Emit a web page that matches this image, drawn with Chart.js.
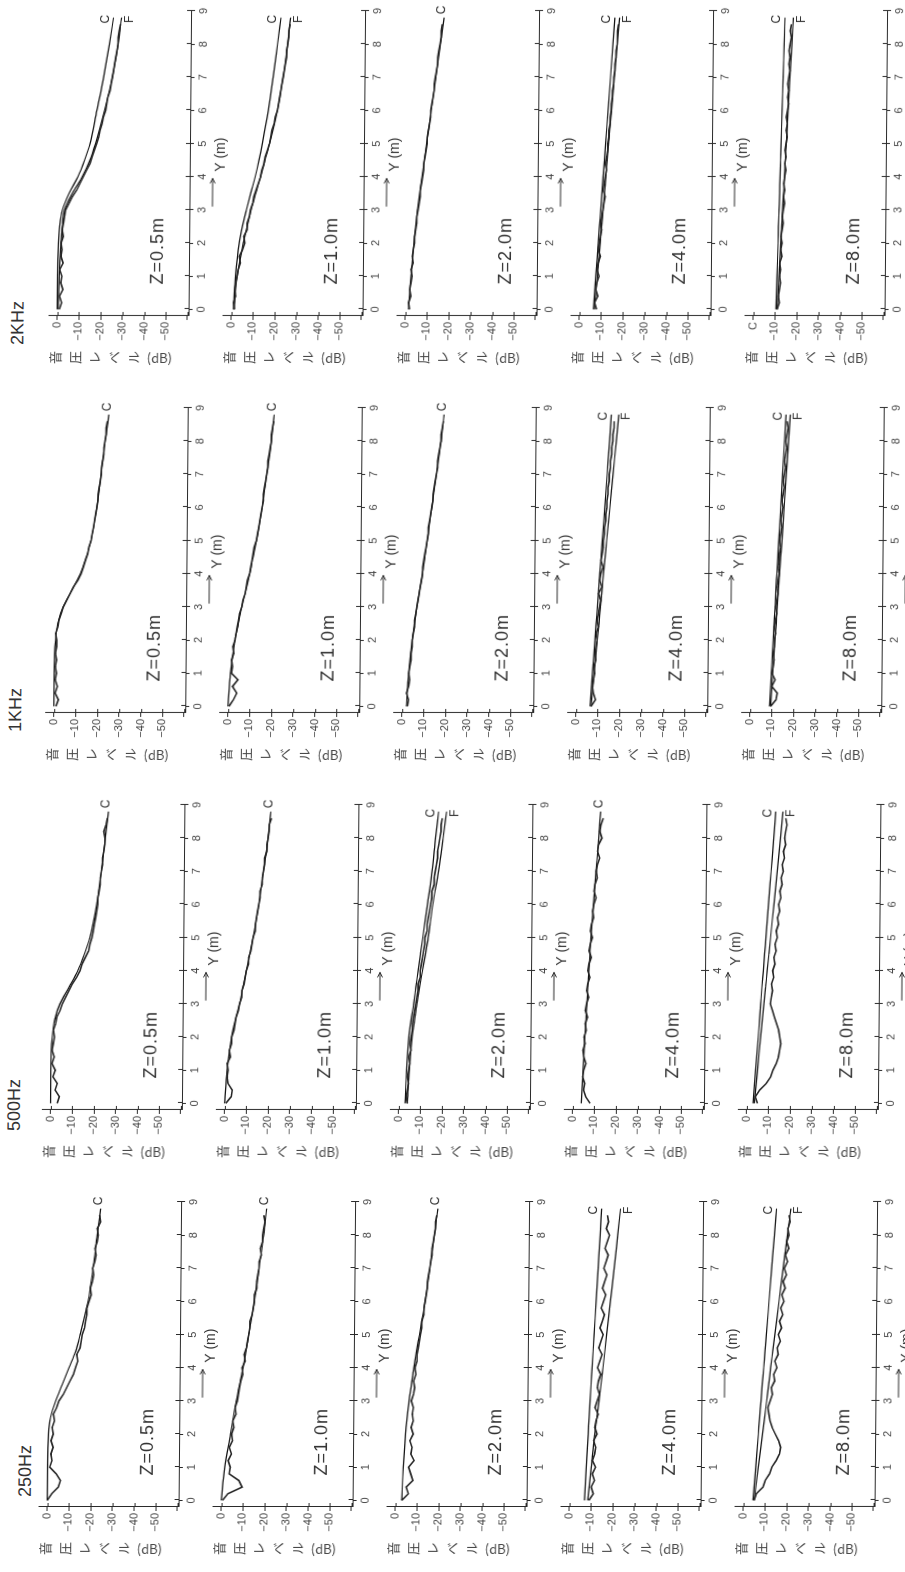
<!DOCTYPE html>
<html>
<head>
<meta charset="utf-8">
<script src="https://cdn.jsdelivr.net/npm/chart.js@4.4.0/dist/chart.umd.min.js"></script>
<style>
  html, body { margin: 0; padding: 0; background: #fff; width: 905px; height: 1572px; overflow: hidden; }
  /* the figure is laid out in landscape and turned a quarter turn, like the scanned page */
  #sheet { position: absolute; left: 0; top: 0; width: 1572px; height: 905px;
           transform-origin: 0 0; transform: translate(0, 1572px) rotate(-90deg) skewY(0.48deg); }
  #sheet canvas { position: absolute; }
  .freq { position: absolute; font: 18px/18px "Liberation Sans Narrow", "Liberation Sans", Arial, sans-serif; color: #333; }
  .ttl { position: absolute; writing-mode: vertical-rl; font: 13px/13px "Noto Sans CJK JP", sans-serif;
         letter-spacing: 6.5px; color: #444; white-space: nowrap; }
  .ttl span { letter-spacing: 0; }
</style>
</head>
<body>
<div id="sheet"></div>
<script>
// 音圧レベル vs Y(m), 4 frequencies x 5 heights Z

const freqs = ['250Hz', '500Hz', '1KHz', '2KHz'];
const zees  = ['Z=0.5m', 'Z=1.0m', 'Z=2.0m', 'Z=4.0m', 'Z=8.0m'];
const yTickVals = [0, -10, -20, -30, -40, -50];

// knots for the computed curves C and F
const knots = [0, 1, 2, 2.5, 3, 3.5, 4, 4.5, 5, 6, 7, 8, 8.8];
// measuring positions of the recorded curves
const yPos = [0, 0.2, 0.4, 0.6, 0.8, 1.0, 1.2, 1.4, 1.6, 1.8, 2.0, 2.2, 2.4, 2.6, 2.8, 3.0, 3.2, 3.4, 3.6, 3.8,
              4.0, 4.2, 4.4, 4.6, 4.8, 5.0, 5.2, 5.4, 5.6, 5.8, 6.0, 6.2, 6.4, 6.6, 6.8, 7.0, 7.2, 7.4, 7.6, 7.8,
              8.0, 8.2, 8.4, 8.6];

// 250Hz
const c250z05 = [0, 0, -0.3, -1.2, -3.5, -6.5, -9.5, -12.5, -14.5, -18, -20.2, -22, -23.5];
const c250z1  = [0, -1.5, -4, -5.2, -6.5, -8, -9.5, -10.8, -12, -14.5, -16.5, -18.5, -19.8];
const c250z2  = [-3, -3.5, -4.5, -5.2, -6, -7, -8, -9.2, -10.5, -13, -15, -17, -18.5];
const c250z4  = [-7, -7.7, -8.5, -8.8, -9.2, -9.6, -10, -10.4, -10.8, -11.6, -12.4, -13.2, -13.8];
const f250z4  = [-8.5, -10, -11.5, -12.4, -13.3, -14.2, -15, -15.8, -16.6, -18.2, -19.8, -21.3, -22.5];
const c250z8  = [-4.5, -5.6, -6.7, -7.2, -7.8, -8.3, -8.9, -9.4, -10, -11.1, -12.2, -13.3, -14.2];
const f250z8  = [-5, -6.8, -8.6, -9.5, -10.4, -11.3, -12.1, -13, -13.9, -15.7, -17.5, -19.3, -20.8];
const m250z05 = [0, -2, -5, -6, -4, -1, -2, -1.5, -2.5, -1.5, -2.5, -2, -3, -2.5, -4, -5, -7, -8.5, -10, -11.5,
                 -12.5, -13.5, -13, -14.5, -15, -15.5, -16.5, -17, -17.5, -17.5, -18.5, -19.5, -19, -20, -20.5, -20, -21, -21.5, -21, -22,
                 -22.5, -22, -23.5, -23];
const m250z1  = [-0.5, -3, -9.5, -8, -3.5, -4, -3, -4.5, -3.5, -5, -4.5, -5.5, -5, -6.5, -6, -7, -7.5, -8, -8.5, -9.5,
                 -9, -10.5, -10, -11, -11.5, -12, -12.5, -12.5, -13.5, -14, -14.5, -14.5, -15.5, -15.5, -16, -16.5, -16.5, -17.5, -17, -18,
                 -18, -18.5, -19, -18.5];
const m250z2  = [-3, -6, -5, -8, -7, -6, -8.5, -7, -7.5, -6.5, -8, -7, -8, -7.5, -8, -7, -8, -8.5, -8, -9,
                 -8.5, -9.5, -9.5, -10, -10.5, -11, -11.5, -11.5, -12.5, -12.5, -13, -13.5, -14, -14, -14.5, -15, -15.5, -16, -16, -16.5,
                 -17, -17.5, -17.5, -18];
const m250z4  = [-9, -11, -10, -11.5, -10.5, -12, -10.5, -11.5, -12, -11, -12.5, -11.5, -12, -13, -11.5, -12.5, -13.5, -12.5, -13, -14,
                 -12.5, -13.5, -14.5, -13, -14, -15, -13.5, -14.5, -15.5, -14, -15, -16, -14.5, -15.5, -16.5, -15, -16, -17, -15.5, -16.5,
                 -17.5, -16, -17, -16.5];
const m250z8  = [-5, -6, -9, -10, -12, -13, -15, -16.5, -17, -16, -14.5, -13, -12, -11.5, -11, -12, -13, -12.5, -14, -13.5,
                 -15, -14, -15.5, -15, -16.5, -15.5, -17, -16, -17.5, -16.5, -18, -17, -18.5, -17.5, -19, -18, -19.5, -18.5, -20, -19,
                 -20, -19.5, -20.5, -20];

// 500Hz
const c500z05 = [0, 0, -0.5, -1.5, -3.9, -8, -12, -15, -17.5, -20.5, -22.5, -24.2, -25.5];
const c500z1  = [0, -1, -3, -4.6, -6.5, -8, -9.5, -11, -12.5, -15, -17, -19, -20.2];
const c500z2  = [-3, -3.5, -4.5, -5.4, -6.5, -7.5, -8.5, -9.5, -10.5, -12.5, -14.5, -16, -17.3];
const f500z2  = [-4, -4.8, -6, -7, -8, -9.2, -10.5, -11.8, -13, -15, -17.5, -19.5, -21];
const c500z4  = [-4, -4.7, -5.4, -5.8, -6.2, -6.6, -7, -7.4, -7.8, -8.8, -9.9, -11, -11.8];
const c500z8  = [-3, -4, -5.1, -5.6, -6.1, -6.6, -7.2, -7.7, -8.3, -9.3, -10.4, -11.5, -12.3];
const f500z8  = [-3.5, -4.9, -6.2, -6.9, -7.6, -8.3, -9, -9.7, -10.4, -11.8, -13.2, -14.6, -15.6];
const m500z05 = [-3, -4, -2, -3, -1, -2, -0.5, -1.5, -0.5, -1, -1.5, -1, -2, -2.5, -4, -5, -6.5, -8, -9.5, -11.5,
                 -13, -14, -15.5, -17, -17.5, -18.5, -19, -19.5, -20, -20.5, -21, -21, -21.5, -22, -22, -22.5, -23, -23, -23.5, -24,
                 -24, -23.5, -24.5, -25];
const m500z1  = [-0.5, -3, -3.5, -1.5, -1, -1.5, -1, -2.5, -2, -3, -3, -4, -4.5, -5, -6, -6.5, -7.5, -7.5, -8.5, -9,
                 -9.5, -10.5, -10.5, -11.5, -12, -12.5, -13.5, -13.5, -14, -14.5, -15, -15.5, -15.5, -16.5, -16.5, -17, -17.5, -17.5, -18.5, -18.5,
                 -19, -19.5, -19.5, -20.5];
const m500z2  = [-4, -3.5, -4, -4.5, -4, -4.5, -5, -4.5, -5.5, -5, -5.5, -6, -6, -6.5, -7, -7.5, -8, -8.5, -8.5, -9.5,
                 -9.5, -10, -10.5, -11, -11.5, -11.5, -12.5, -12.5, -13, -13.5, -14, -14.5, -14.5, -15.5, -15.5, -16, -16.5, -17, -17, -17.5,
                 -18, -18.5, -18.5, -19];
const m500z4  = [-8, -6, -5, -5.5, -4.5, -5, -6, -5, -4.5, -5.5, -5, -6, -5.5, -6.5, -5.5, -6, -7, -6, -6.5, -7.5,
                 -6.5, -7, -8, -7, -7.5, -8.5, -7.5, -8, -9, -8.5, -9, -10, -9, -9.5, -10.5, -10, -10.5, -11.5, -10.5, -11,
                 -12.5, -11.5, -12, -13];
const m500z8  = [-5, -4, -6, -9, -11, -12, -13.5, -14.5, -15, -15.5, -15, -14.5, -13.5, -12.5, -11.5, -10.5, -11, -11.5, -11, -12,
                 -11.5, -12.5, -12, -13, -12.5, -13.5, -13, -14, -13.5, -14.5, -14, -15, -14.5, -15.5, -15, -16, -15.5, -16.5, -16, -17,
                 -16.5, -17, -17.5, -17];

// 1KHz
const c1kz05 = [0, 0, -0.5, -1.5, -3.9, -7.8, -11.7, -14.3, -16.4, -19, -20.8, -22.6, -24.2];
const c1kz1  = [0, -1, -3, -4.5, -6, -7.8, -9.5, -11, -12.5, -15, -17, -19, -20.2];
const c1kz2  = [-2, -3, -4.5, -5.5, -6.5, -7.7, -9, -10, -11, -13, -15, -17, -18.3];
const c1kz4  = [-6.5, -7.5, -8.5, -9, -9.5, -10, -10.5, -11, -11.5, -12.5, -13.5, -14.5, -15.2];
const f1kz4  = [-7, -8.3, -9.6, -10.3, -10.9, -11.6, -12.2, -12.9, -13.5, -14.9, -16.2, -17.6, -18.6];
const c1kz8  = [-9, -9.7, -10.4, -10.8, -11.2, -11.5, -11.9, -12.3, -12.6, -13.4, -14.1, -14.9, -15.5];
const f1kz8  = [-9.5, -10.4, -11.3, -11.8, -12.2, -12.7, -13.1, -13.6, -14.1, -15, -15.9, -16.8, -17.5];
const m1kz05 = [-1, -2, -0.5, -1.5, -0.5, -1, -0.5, -1, -0.5, -1, -1, -0.5, -1.5, -2, -3, -4, -5.5, -7, -8.5, -10.5,
                -12, -13, -14, -15, -15.5, -16.5, -17, -17.5, -18, -18.5, -19, -19.5, -19.5, -20, -20.5, -21, -21, -21.5, -22, -22,
                -22.5, -23, -23, -23.5];
const m1kz1  = [-0.5, -2.5, -4, -2, -4.5, -1.5, -2, -1.5, -2.5, -2, -3, -3.5, -4, -4.5, -5, -6, -6.5, -7.5, -8, -8.5,
                -9.5, -10, -10.5, -11, -11.5, -12.5, -13, -13.5, -14, -14.5, -15, -15.5, -15.5, -16, -16.5, -17, -17.5, -17.5, -18, -18.5,
                -19, -19, -19.5, -20];
const m1kz2  = [-2.5, -3, -2, -3, -3.5, -3, -3.5, -4, -4, -4.5, -4.5, -5, -5.5, -5.5, -6, -6.5, -7, -7.5, -8, -8.5,
                -9, -9, -9.5, -10, -10.5, -11, -11.5, -11.5, -12, -12.5, -13, -13.5, -13.5, -14, -14.5, -15, -15.5, -15.5, -16, -16.5,
                -17, -17, -17.5, -18];
const m1kz4  = [-7, -9, -8, -7.5, -8, -8.5, -8, -9, -8.5, -9, -9.5, -9, -10, -9.5, -10, -10.5, -11, -10, -11.5, -10.5,
                -11, -12, -11, -11.5, -12, -12, -12.5, -12.5, -13, -13, -13.5, -13.5, -14, -14, -14.5, -14.5, -15, -15, -15.5, -15.5,
                -16, -16, -16.5, -16.5];
const m1kz8  = [-9.5, -12, -12.5, -10, -11.5, -10, -10.5, -11, -10.5, -11, -11, -11.5, -11, -11.5, -12, -11.5, -12, -12.5, -12, -12.5,
                -13, -12.5, -13, -13, -13.5, -13, -13.5, -14, -13.5, -14, -14.5, -14, -14.5, -15, -14.5, -15, -15.5, -15, -15.5, -16,
                -15.5, -16, -16.5, -16];

// 2KHz
const c2kz05 = [0, 0, -0.3, -0.8, -2, -5, -9, -12, -14.5, -17.5, -20.5, -23, -24.8];
const f2kz05 = [-0.5, -0.8, -1.5, -2, -3, -6.5, -11, -14.5, -17, -21, -24.5, -27, -28.5];
const c2kz1  = [-1, -1.8, -3.4, -4.8, -6.6, -8.5, -10.5, -12.2, -13.7, -16.3, -18.4, -20.3, -21.8];
const f2kz1  = [-1.2, -2.6, -5.3, -7, -8.7, -10.8, -13, -15, -17, -20.5, -23, -25, -26.2];
const c2kz2  = [-1.5, -2.5, -3.8, -4.5, -5.3, -6.2, -7.2, -8.2, -9.2, -11.2, -13.2, -15.2, -16.8];
const c2kz4  = [-6.5, -7.5, -8.5, -9, -9.5, -10, -10.5, -11, -11.5, -12.5, -13.5, -14.5, -15.3];
const f2kz4  = [-7, -8.2, -9.4, -10, -10.6, -11.2, -11.7, -12.3, -12.9, -14.1, -15.3, -16.5, -17.5];
const c2kz8  = [-10.5, -10.8, -11.2, -11.3, -11.5, -11.7, -11.8, -12, -12.2, -12.5, -12.9, -13.2, -13.5];
const f2kz8  = [-11, -11.7, -12.4, -12.8, -13.1, -13.5, -13.9, -14.2, -14.6, -15.3, -16, -16.8, -17.4];
const m2kz05 = [-1, -2, -1, -2.5, -1.5, -2, -1, -2.5, -1.5, -2, -1.5, -2.5, -2, -2.5, -3, -3.5, -5, -6.5, -8.5, -10,
                -11.5, -13, -14.5, -15.5, -16.5, -17.5, -18.5, -19, -20, -20.5, -21.5, -22, -22.5, -23.5, -24, -24.5, -25, -25.5, -26, -26.5,
                -27, -27, -27.5, -28];
const m2kz1  = [-1.5, -1, -2, -1.5, -2, -2.5, -3, -4, -3.5, -5, -6, -5.5, -7, -7, -8, -8.5, -9.5, -10, -11, -12,
                -13, -13.5, -14.5, -15, -16, -17, -17.5, -18, -19, -19.5, -20.5, -21, -21.5, -22, -22.5, -23, -23.5, -24, -24.5, -24.5,
                -25, -25.5, -25.5, -26];
const m2kz2  = [-2, -1.5, -2.5, -2, -2.5, -3, -2.5, -3.5, -3, -3.5, -4, -4, -4.5, -5, -5, -5.5, -6, -6.5, -6.5, -7,
                -7.5, -8, -8, -8.5, -9, -9.5, -9.5, -10, -10.5, -11, -11, -11.5, -12, -12.5, -12.5, -13, -13.5, -14, -14, -14.5,
                -15, -15.5, -15.5, -16];
const m2kz4  = [-8, -7, -8.5, -7.5, -8, -9, -8, -8.5, -9.5, -8.5, -9, -9.5, -10, -9.5, -10, -10.5, -11, -11.5, -10.5, -11,
                -11.5, -12, -11.5, -12, -12.5, -12.5, -13, -13, -13.5, -13.5, -14, -14, -14.5, -14.5, -15, -15, -15.5, -15.5, -16, -16,
                -16.5, -16.5, -16.5, -17];
const m2kz8  = [-11, -12, -11.5, -12, -12.5, -12, -12.5, -12, -13, -12.5, -13, -12.5, -13, -13.5, -13, -13.5, -14, -13.5, -14, -13.5,
                -14, -14.5, -14, -14.5, -14, -14.5, -15, -14.5, -15, -14.5, -15, -15.5, -15, -15.5, -15, -15.5, -16, -15.5, -16, -15.5,
                -16, -16.5, -16, -16.5];

// frequency column, Z row, curves
const panels = [
  { f: 0, z: 0, c: c250z05, m: m250z05 },
  { f: 0, z: 1, c: c250z1,  m: m250z1 },
  { f: 0, z: 2, c: c250z2,  m: m250z2 },
  { f: 0, z: 3, c: c250z4,  fl: f250z4, m: m250z4 },
  { f: 0, z: 4, c: c250z8,  fl: f250z8, m: m250z8 },
  { f: 1, z: 0, c: c500z05, m: m500z05 },
  { f: 1, z: 1, c: c500z1,  m: m500z1 },
  { f: 1, z: 2, c: c500z2,  fl: f500z2, m: m500z2 },
  { f: 1, z: 3, c: c500z4,  m: m500z4 },
  { f: 1, z: 4, c: c500z8,  fl: f500z8, m: m500z8 },
  { f: 2, z: 0, c: c1kz05,  m: m1kz05 },
  { f: 2, z: 1, c: c1kz1,   m: m1kz1 },
  { f: 2, z: 2, c: c1kz2,   m: m1kz2 },
  { f: 2, z: 3, c: c1kz4,   fl: f1kz4, m: m1kz4 },
  { f: 2, z: 4, c: c1kz8,   fl: f1kz8, m: m1kz8 },
  { f: 3, z: 0, c: c2kz05,  fl: f2kz05, m: m2kz05 },
  { f: 3, z: 1, c: c2kz1,   fl: f2kz1, m: m2kz1 },
  { f: 3, z: 2, c: c2kz2,   m: m2kz2 },
  { f: 3, z: 3, c: c2kz4,   fl: f2kz4, m: m2kz4 },
  { f: 3, z: 4, c: c2kz8,   fl: f2kz8, m: m2kz8, zero: 'C' },
];

const COL_W = 397, ROW_H = 174, CV_H = 222;
const INK = '#2a2a2a';
const sheet = document.getElementById('sheet');

Chart.defaults.font = { family: '"Liberation Sans", Arial, sans-serif', size: 11 };
Chart.defaults.color = '#444';
Chart.defaults.animation = false;

// frequency headings
const freqPos = [[75, 15], [441, 1], [840, -1], [1227, -2]];
freqs.forEach((t, i) => {
  const d = document.createElement('div');
  d.className = 'freq';
  d.textContent = t;
  d.style.left = freqPos[i][0] + 'px';
  d.style.top = freqPos[i][1] + 'px';
  sheet.appendChild(d);
});

function makeDecor(p) {
  return {
    id: 'decor',
    afterDraw(chart) {
      const { ctx, chartArea: a, scales: { x, y } } = chart;
      ctx.save();
      ctx.strokeStyle = INK;
      ctx.lineWidth = 1;

      // inner half of the cross-shaped ticks
      ctx.beginPath();
      x.ticks.forEach(t => {
        const px = Math.round(x.getPixelForValue(t.value)) + 0.5;
        ctx.moveTo(px, a.bottom); ctx.lineTo(px, a.bottom - 4);
      });
      y.ticks.forEach(t => {
        const py = Math.round(y.getPixelForValue(t.value)) + 0.5;
        ctx.moveTo(a.left, py); ctx.lineTo(a.left + 4, py);
      });
      ctx.stroke();

      // arrow and Y (m) under the axis
      const ay = a.bottom + 23;
      const x0 = x.getPixelForValue(3.1), x1 = x.getPixelForValue(3.95);
      ctx.beginPath();
      ctx.moveTo(x0, ay); ctx.lineTo(x1, ay);
      ctx.moveTo(x1 - 5, ay - 2.5); ctx.lineTo(x1, ay); ctx.lineTo(x1 - 5, ay + 2.5);
      ctx.stroke();
      ctx.fillStyle = '#333';
      ctx.font = '14px "Liberation Sans", Arial, sans-serif';
      ctx.textAlign = 'left';
      ctx.textBaseline = 'middle';
      ctx.fillText('Y (m)', x.getPixelForValue(4.15), a.bottom + 31);

      // Z label
      ctx.font = '18px "Liberation Sans", Arial, sans-serif';
      ctx.letterSpacing = '1px';
      ctx.textBaseline = 'alphabetic';
      ctx.fillText(zees[p.z], x.getPixelForValue(0.75), y.getPixelForValue(-48.4));
      ctx.letterSpacing = '0px';

      // C / F labels at the end of the computed curves
      ctx.font = '12px "Liberation Sans", Arial, sans-serif';
      const cEnd = p.c[p.c.length - 1];
      if (p.fl) {
        const fEnd = p.fl[p.fl.length - 1];
        const lx = x.getPixelForValue(8.75);
        ctx.textAlign = 'center';
        ctx.textBaseline = 'bottom';
        ctx.fillText('C', lx, y.getPixelForValue(cEnd) - 2);
        ctx.textBaseline = 'top';
        ctx.fillText('F', lx, y.getPixelForValue(fEnd) + 2);
      } else {
        ctx.textAlign = 'left';
        ctx.textBaseline = 'middle';
        ctx.fillText('C', x.getPixelForValue(8.9), y.getPixelForValue(cEnd) - 2);
      }
      ctx.restore();
    }
  };
}

panels.forEach(p => {
  const cv = document.createElement('canvas');
  cv.width = COL_W;
  cv.height = CV_H;
  cv.style.left = (p.f * COL_W) + 'px';
  cv.style.top = (p.z * ROW_H) + 'px';
  sheet.appendChild(cv);

  const title = document.createElement('div');
  title.className = 'ttl';
  title.innerHTML = '音圧レベル<span>(dB)</span>';
  title.style.left = (p.f * COL_W + 17) + 'px';
  title.style.top = (p.z * ROW_H + 39) + 'px';
  sheet.appendChild(title);

  const datasets = [{
    data: yPos.map((v, i) => ({ x: v, y: p.m[i] })),
    borderColor: '#262626', borderWidth: 1.6,
  }, {
    data: knots.map((v, i) => ({ x: v, y: p.c[i] })),
    borderColor: '#111', borderWidth: 1.2, cubicInterpolationMode: 'monotone',
  }];
  if (p.fl) {
    datasets.push({
      data: knots.map((v, i) => ({ x: v, y: p.fl[i] })),
      borderColor: '#111', borderWidth: 1.2, cubicInterpolationMode: 'monotone',
    });
  }

  new Chart(cv, {
    type: 'line',
    data: { datasets },
    options: {
      responsive: false,
      layout: { padding: { left: 35, right: 27, top: 38, bottom: 16 } },
      elements: { point: { radius: 0 }, line: { fill: false } },
      plugins: { legend: { display: false }, tooltip: { enabled: false } },
      scales: {
        x: {
          type: 'linear', min: -0.2, max: 9,
          afterFit: s => { s.height = 28; },
          ticks: { stepSize: 1, includeBounds: false, padding: 2, color: '#444', font: { size: 11 } },
          grid: { drawOnChartArea: false, tickLength: 4, color: INK },
          border: { color: INK, width: 1 },
        },
        y: {
          min: -60.5, max: 4,
          afterFit: s => { s.width = 30; },
          ticks: {
            stepSize: 5, includeBounds: false, padding: 2, color: '#444', font: { size: 11 },
            callback: v => {
              if (!yTickVals.includes(v)) return '';
              if (v === 0) return p.zero || '0';
              return '\u2212' + (-v);
            },
          },
          grid: { drawOnChartArea: false, tickLength: 4, color: INK },
          border: { color: INK, width: 1 },
        },
      },
    },
    plugins: [makeDecor(p)],
  });
});
</script>
</body>
</html>
